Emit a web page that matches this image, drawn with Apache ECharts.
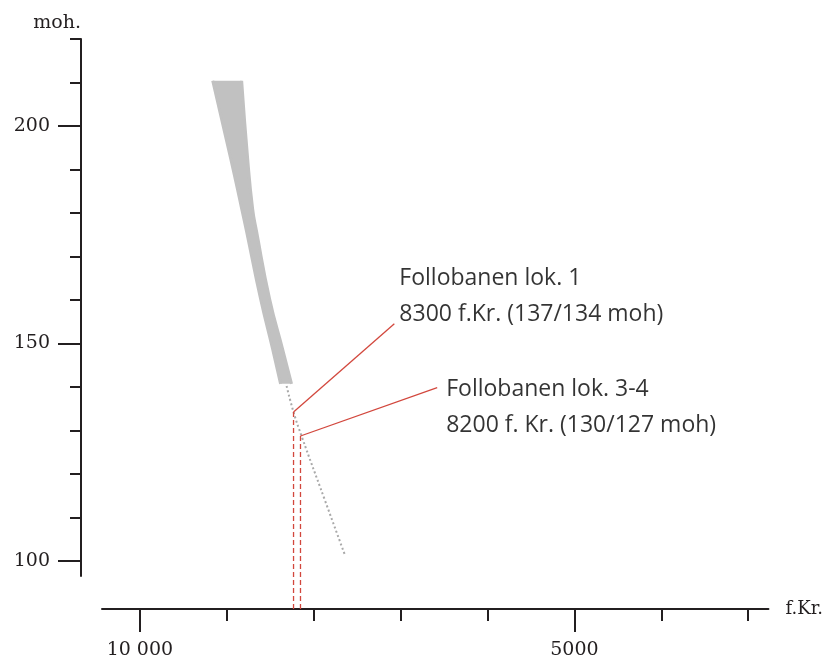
<!DOCTYPE html>
<html>
<head>
<meta charset="utf-8">
<script src="https://cdn.jsdelivr.net/npm/echarts@6/dist/echarts.min.js"></script>
<style>
    html, body { margin: 0; padding: 0; background: #fff; }
    #graph { width: 826px; height: 660px; }
</style>
</head>
<body>
<div id="graph"></div>
<script>
// axis extents (x runs backwards in years f.Kr.)
var xMin = 2767, xMax = 10436;
var yMin = 96.5, yMax = 220;
var xBase = 88.8;   // moh level where the year axis sits

var xMajor = [5000, 10000];
var xMinor = [3000, 4000, 6000, 7000, 8000, 9000];
var yMajor = [100, 150, 200];
var yMinor = [110, 120, 130, 140, 160, 170, 180, 190, 210, 220];

// grey band: older edge (top -> bottom) and younger edge (top -> bottom)
var bandOld = [[9162, 210.4], [8955, 192.5], [8829, 181.0], [8772, 175.7], [8611, 160.2], [8473, 148.7], [8381, 140.7]];
var bandYoung = [[8829, 210.4], [8760, 192.5], [8703, 181.0], [8657, 175.7], [8507, 160.2], [8358, 148.7], [8255, 140.7]];

// dotted continuation of the curve
var curveDotted = [[8312, 140.2], [8232, 134.2], [8140, 128.7], [7876, 114.2], [7635, 101.0]];

// sites
var siteNames = ['Follobanen lok. 1', 'Follobanen lok. 3-4'];
var siteDates = ['8300 f.Kr. (137/134 moh)', '8200 f. Kr. (130/127 moh)'];
var siteYear = [8232, 8152];
var siteMoh = [134.2, 128.7];
var labelYear = [7072, 6579];
var labelMoh = [154.5, 139.8];

var ink = '#231f20';
var red = '#d2473d';
var grey = '#c1c1c1';
var serif = 'DejaVu Serif';

var series = [];
series.push({
    type: 'custom',
    name: 'band',
    data: bandOld.concat(bandYoung),
    encode: {x: 0, y: 1},
    renderItem: function (params, api) {
        if (params.dataIndex !== 0) return null;
        var left = bandOld.map(function (p) { return api.coord(p); });
        var right = bandYoung.map(function (p) { return api.coord(p); });
        return {
            type: 'polygon',
            shape: {points: left.concat(right.slice().reverse())},
            style: {fill: grey, stroke: null}
        };
    },
    silent: true
});
// smooth the band edges
[bandOld, bandYoung].forEach(function (edge) {
    series.push({
        type: 'line',
        data: edge,
        smooth: 0.5,
        symbol: 'none',
        lineStyle: {color: grey, width: 3},
        silent: true
    });
});
series.push({
    type: 'line',
    data: curveDotted,
    smooth: true,
    symbol: 'none',
    lineStyle: {color: '#a9a9a9', width: 2, type: [2, 2.5]},
    silent: true
});
for (var i = 0; i < siteNames.length; i++) {
    // dashed drop line to the year axis
    series.push({
        type: 'line',
        clip: false,
        data: [[siteYear[i], siteMoh[i]], [siteYear[i], xBase]],
        symbol: 'none',
        lineStyle: {color: red, width: 1.3, type: [5, 3]},
        silent: true
    });
    // leader line to the text
    series.push({
        type: 'line',
        data: [[siteYear[i], siteMoh[i]], [labelYear[i], labelMoh[i]]],
        symbol: 'none',
        lineStyle: {color: red, width: 1.3},
        silent: true
    });
}
series.push({
    type: 'scatter',
    symbolSize: 0,
    data: [
        {value: [labelYear[0], labelMoh[0]], label: {offset: [0, -27]}},
        {value: [labelYear[1], labelMoh[1]], label: {offset: [4, 20]}}
    ],
    label: {
        show: true,
        position: 'right',
        distance: 5,
        fontFamily: 'Open Sans',
        fontSize: 23,
        lineHeight: 36,
        color: '#000',
        formatter: function (p) {
            return siteNames[p.dataIndex] + '\n' + siteDates[p.dataIndex];
        }
    },
    emphasis: {disabled: true},
    silent: true
});

function fmtYear(v) {
    return v >= 10000 ? String(v).replace(/\B(?=(\d{3})+(?!\d))/g, ' ') : String(v);
}

var myChart = echarts.init(document.getElementById('graph'));
myChart.setOption({
    animation: false,
    backgroundColor: '#fff',
    grid: {left: 102, right: 56, top: 39, bottom: 83},
    xAxis: [{
        type: 'value',
        inverse: true,
        min: xMin,
        max: xMax,
        position: 'bottom',
        offset: 33,
        name: 'f.Kr.',
        nameLocation: 'start',
        nameGap: 17,
        nameTextStyle: {fontFamily: serif, fontSize: 18, color: ink},
        axisLine: {show: true, onZero: false, lineStyle: {color: ink, width: 2}},
        axisTick: {show: true, customValues: xMajor, length: 23, lineStyle: {color: ink, width: 2}},
        axisLabel: {customValues: xMajor, margin: 32, fontFamily: serif, fontSize: 19, color: ink, formatter: fmtYear},
        splitLine: {show: false}
    }, {
        type: 'value',
        inverse: true,
        min: xMin,
        max: xMax,
        position: 'bottom',
        offset: 33,
        axisLine: {show: false, onZero: false},
        axisTick: {show: true, customValues: xMinor, length: 12, lineStyle: {color: ink, width: 2}},
        axisLabel: {show: false},
        splitLine: {show: false}
    }],
    yAxis: [{
        type: 'value',
        min: yMin,
        max: yMax,
        position: 'left',
        offset: 21,
        name: 'moh.',
        nameLocation: 'end',
        nameGap: 6,
        nameTextStyle: {fontFamily: serif, fontSize: 19, color: ink, align: 'right', verticalAlign: 'bottom'},
        axisLine: {show: true, onZero: false, lineStyle: {color: ink, width: 2}},
        axisTick: {show: true, customValues: yMajor, length: 23, lineStyle: {color: ink, width: 2}},
        axisLabel: {customValues: yMajor, margin: 31, fontFamily: serif, fontSize: 19, color: ink},
        splitLine: {show: false}
    }, {
        type: 'value',
        min: yMin,
        max: yMax,
        position: 'left',
        offset: 21,
        axisLine: {show: false, onZero: false},
        axisTick: {show: true, customValues: yMinor, length: 11, lineStyle: {color: ink, width: 2}},
        axisLabel: {show: false},
        splitLine: {show: false}
    }],
    series: series
});
</script>
</body>
</html>
